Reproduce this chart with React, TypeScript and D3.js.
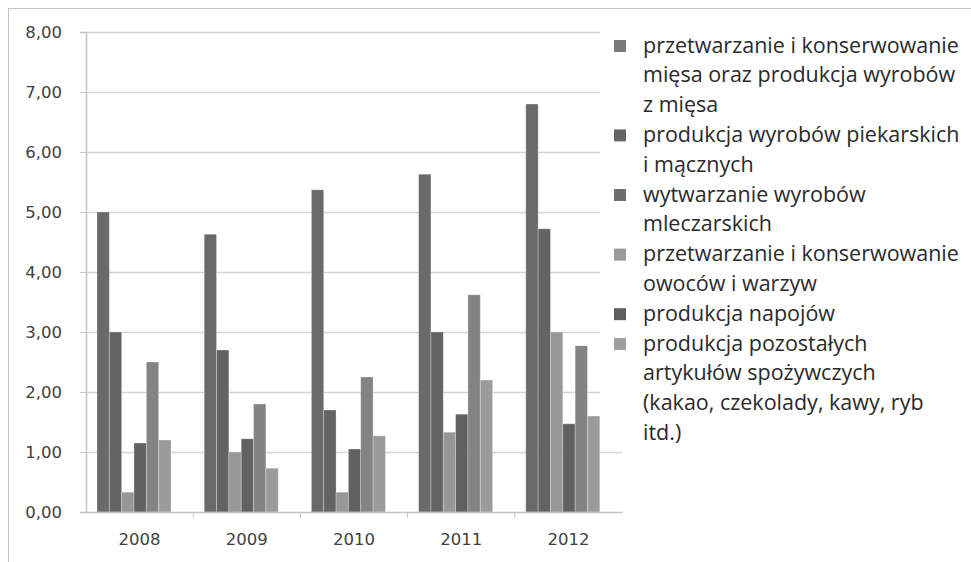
import React, { useEffect, useRef } from 'react';
import * as d3 from 'd3';

const years = ['2008', '2009', '2010', '2011', '2012'];

const seriesNames = [
  'przetwarzanie i konserwowanie mięsa oraz produkcja wyrobów z mięsa',
  'produkcja wyrobów piekarskich i mącznych',
  'wytwarzanie wyrobów mleczarskich',
  'przetwarzanie i konserwowanie owoców i warzyw',
  'produkcja napojów',
  'produkcja pozostałych artykułów spożywczych (kakao, czekolady, kawy, ryb itd.)',
];

// legend text is wrapped like in the original
const legendLines = [
  ['przetwarzanie i konserwowanie', 'mięsa oraz produkcja wyrobów', 'z mięsa'],
  ['produkcja wyrobów piekarskich', 'i mącznych'],
  ['wytwarzanie wyrobów', 'mleczarskich'],
  ['przetwarzanie i konserwowanie', 'owoców i warzyw'],
  ['produkcja napojów'],
  ['produkcja pozostałych', 'artykułów spożywczych', '(kakao, czekolady, kawy, ryb', 'itd.)'],
];

const meat = [5.0, 4.63, 5.37, 5.63, 6.8];
const bakery = [3.0, 2.7, 1.7, 3.0, 4.72];
const dairy = [0.33, 1.0, 0.33, 1.33, 3.0];
const fruitVeg = [1.15, 1.22, 1.05, 1.63, 1.47];
const drinks = [2.5, 1.8, 2.25, 3.62, 2.77];
const other = [1.2, 0.73, 1.27, 2.2, 1.6];

const seriesValues = [meat, bakery, dairy, fruitVeg, drinks, other];
// greyscale print: bar shades and legend swatches don't line up exactly
const colors = ['#6a6a6a', '#636363', '#979797', '#616161', '#838383', '#9b9b9b'];
const legendColors = ['#7a7a7a', '#666666', '#6e6e6e', '#9a9a9a', '#5e5e5e', '#9e9e9e'];

const yTicks = [0, 1, 2, 3, 4, 5, 6, 7, 8];

const W = 971;
const H = 562;

export default function App() {
  const ref = useRef<SVGSVGElement>(null);

  useEffect(() => {
    if (!ref.current) return;
    const svg = d3.select(ref.current);
    svg.selectAll('*').remove();

    const left = 86;
    const right = 622;
    const top = 32;
    const bottom = 512;

    const x0 = d3.scaleBand().domain(years).range([left, right]);
    const x1 = d3.scaleBand<number>().domain(d3.range(seriesNames.length)).range([11, 85]);
    const y = d3.scaleLinear().domain([0, 8]).range([bottom, top]);

    // frame of the screenshot
    svg.append('line').attr('x1', 8.5).attr('x2', 8.5).attr('y1', 8).attr('y2', H).attr('stroke', '#c4c4c4');
    svg.append('line').attr('x1', 8).attr('x2', W).attr('y1', 8.5).attr('y2', 8.5).attr('stroke', '#c4c4c4');

    // gridlines
    svg.append('g')
      .selectAll('line')
      .data(yTicks.slice(1))
      .enter()
      .append('line')
      .attr('x1', left)
      .attr('x2', right)
      .attr('y1', d => Math.round(y(d)) + 0.5)
      .attr('y2', d => Math.round(y(d)) + 0.5)
      .attr('stroke', '#d4d4d4')
      .attr('stroke-width', 1.5);

    // bars
    const groups = svg.append('g')
      .selectAll('g')
      .data(years)
      .enter()
      .append('g')
      .attr('transform', d => `translate(${x0(d)},0)`);

    groups.selectAll('rect')
      .data((_, i) => seriesValues.map((s, k) => ({ k, v: s[i] })))
      .enter()
      .append('rect')
      .attr('x', d => x1(d.k) ?? 0)
      .attr('y', d => y(d.v))
      .attr('width', x1.bandwidth())
      .attr('height', d => bottom - y(d.v))
      .attr('fill', d => colors[d.k])
      .attr('stroke', 'rgba(255,255,255,0.35)')
      .attr('stroke-width', 0.8);

    // y axis
    const yAxis = svg.append('g')
      .attr('transform', `translate(${left},0)`)
      .call(d3.axisLeft(y).tickValues(yTicks).tickSize(6).tickPadding(18)
        .tickFormat(d => (d as number).toFixed(2).replace('.', ',')));
    yAxis.select('.domain').attr('stroke', '#c4c4c4').attr('stroke-width', 1.5);
    yAxis.selectAll('.tick line').attr('stroke', '#c4c4c4');
    yAxis.selectAll('text')
      .attr('font-family', 'DejaVu Sans, Verdana, sans-serif')
      .attr('font-size', 16.5)
      .attr('fill', '#404040');

    // x axis
    const xAxis = svg.append('g')
      .attr('transform', `translate(0,${bottom})`)
      .call(d3.axisBottom(x0).tickSize(0).tickPadding(21));
    xAxis.select('.domain').attr('stroke', '#c4c4c4').attr('stroke-width', 1.5);
    xAxis.selectAll('text')
      .attr('font-family', 'DejaVu Sans, Verdana, sans-serif')
      .attr('font-size', 16.5)
      .attr('fill', '#404040');
    // small ticks between categories
    xAxis.selectAll('line.sep')
      .data(years.slice(1))
      .enter()
      .append('line')
      .attr('class', 'sep')
      .attr('x1', d => x0(d) ?? 0)
      .attr('x2', d => x0(d) ?? 0)
      .attr('y1', 0)
      .attr('y2', 6)
      .attr('stroke', '#c4c4c4');

    // legend box covers the gridlines on the right
    svg.append('rect')
      .attr('x', 600)
      .attr('y', 20)
      .attr('width', W - 600)
      .attr('height', 425)
      .attr('fill', '#fff');

    const lineH = 29.8;
    let row = 0;
    const legend = svg.append('g')
      .attr('font-family', 'Open Sans, sans-serif')
      .attr('font-size', 21.5)
      .attr('fill', '#2a2a2a');
    legendLines.forEach((lines, k) => {
      const y0 = 45 + row * lineH;
      legend.append('rect')
        .attr('x', 614)
        .attr('y', y0 - 5)
        .attr('width', 12)
        .attr('height', 12)
        .attr('fill', legendColors[k]);
      lines.forEach((t, j) => {
        legend.append('text')
          .attr('x', 643)
          .attr('y', y0 + j * lineH)
          .attr('dy', '0.35em')
          .text(t);
      });
      row += lines.length;
    });
  }, []);

  return (
    <svg
      ref={ref}
      width={W}
      height={H}
      style={{ position: 'absolute', left: 0, top: 0, background: '#fff' }}
    />
  );
}
